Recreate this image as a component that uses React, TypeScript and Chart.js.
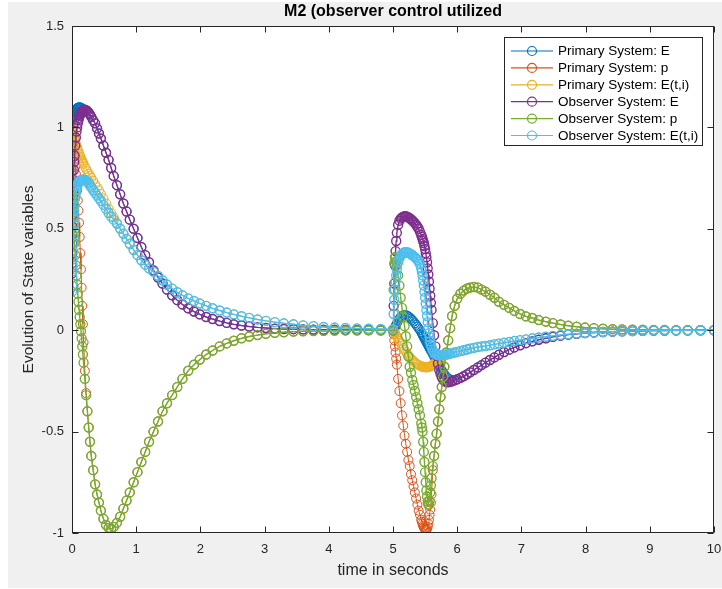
import React, { useEffect, useRef } from "react";
import { Chart, registerables } from "chart.js";

Chart.register(...registerables);

// ---------- time samples (s) ----------
const T_A = [0, 0.002, 0.004, 0.006, 0.008, 0.01, 0.013, 0.016, 0.02, 0.025, 0.03, 0.035, 0.04, 0.05, 0.06, 0.07, 0.08, 0.09, 0.1, 0.11, 0.12, 0.13, 0.14, 0.15, 0.16, 0.17, 0.18, 0.2, 0.22, 0.24, 0.26, 0.28, 0.3];
const T_B = [0.33, 0.36, 0.39, 0.42, 0.45, 0.49, 0.53, 0.57, 0.61, 0.65, 0.7, 0.75, 0.8, 0.85, 0.9, 0.96, 1.02, 1.08, 1.14, 1.2, 1.27, 1.34, 1.41, 1.48, 1.56, 1.64, 1.72, 1.81, 1.9, 1.99, 2.09, 2.19, 2.3, 2.41, 2.52, 2.64, 2.76, 2.89, 3.02, 3.16, 3.3, 3.45, 3.6, 3.76, 3.92, 4.09, 4.26, 4.44, 4.62, 4.81, 5.0];
const T_C = [5.01, 5.02, 5.03, 5.04, 5.05, 5.06, 5.08, 5.1, 5.12, 5.14, 5.16, 5.18, 5.2, 5.22, 5.24, 5.26, 5.28, 5.3, 5.32, 5.34, 5.36, 5.38, 5.4, 5.42, 5.44, 5.45, 5.46, 5.47, 5.48, 5.49, 5.5, 5.51, 5.52, 5.53, 5.54, 5.55, 5.56, 5.57, 5.58, 5.59, 5.6, 5.62, 5.64, 5.66, 5.68, 5.7, 5.72, 5.74, 5.76, 5.78, 5.8, 5.83, 5.86, 5.89, 5.92, 5.96, 6.0];
const T_D = [6.05, 6.1, 6.15, 6.2, 6.26, 6.32, 6.38, 6.44, 6.51, 6.58, 6.65, 6.73, 6.81, 6.89, 6.98, 7.07, 7.17, 7.27, 7.38, 7.49, 7.61, 7.73, 7.86, 7.99, 8.13, 8.27, 8.42, 8.57, 8.73, 8.89, 9.06, 9.23, 9.41, 9.59, 9.79, 10];

// ---------- Observer System: E ----------
const OBS_E_A = [0.28, 0.33, 0.38, 0.43, 0.47, 0.51, 0.57, 0.62, 0.68, 0.74, 0.79, 0.83, 0.86, 0.91, 0.95, 0.98, 1.0, 1.02, 1.035, 1.047, 1.057, 1.065, 1.071, 1.076, 1.08, 1.083, 1.085, 1.087, 1.085, 1.08, 1.072, 1.063, 1.052];
const OBS_E_B = [1.035, 1.02, 0.995, 0.97, 0.945, 0.91, 0.875, 0.84, 0.8, 0.76, 0.715, 0.67, 0.625, 0.585, 0.545, 0.5, 0.455, 0.41, 0.37, 0.335, 0.295, 0.26, 0.23, 0.2, 0.172, 0.148, 0.127, 0.108, 0.092, 0.078, 0.065, 0.055, 0.045, 0.036, 0.029, 0.023, 0.018, 0.014, 0.011, 0.008, 0.006, 0.005, 0.004, 0.003, 0.002, 0.002, 0.001, 0.001, 0.001, 0, 0];
const OBS_E_C = [0.12, 0.23, 0.32, 0.39, 0.44, 0.48, 0.52, 0.54, 0.55, 0.556, 0.56, 0.562, 0.562, 0.56, 0.556, 0.552, 0.547, 0.541, 0.535, 0.528, 0.52, 0.51, 0.5, 0.485, 0.47, 0.46, 0.45, 0.44, 0.43, 0.415, 0.4, 0.38, 0.36, 0.335, 0.305, 0.275, 0.24, 0.205, 0.17, 0.135, 0.1, 0.035, -0.025, -0.08, -0.125, -0.165, -0.195, -0.215, -0.232, -0.243, -0.25, -0.256, -0.257, -0.255, -0.252, -0.247, -0.242];
const OBS_E_D = [-0.235, -0.227, -0.218, -0.208, -0.196, -0.184, -0.172, -0.16, -0.147, -0.134, -0.121, -0.108, -0.096, -0.085, -0.074, -0.064, -0.055, -0.047, -0.04, -0.033, -0.027, -0.022, -0.018, -0.014, -0.011, -0.009, -0.007, -0.005, -0.004, -0.003, -0.002, -0.002, -0.001, -0.001, 0, 0];

// ---------- Primary System: E ----------
const PRI_E_A = [1.04, 1.042, 1.045, 1.047, 1.05, 1.052, 1.055, 1.058, 1.062, 1.067, 1.071, 1.075, 1.078, 1.084, 1.088, 1.092, 1.095, 1.097, 1.098, 1.099, 1.099, 1.098, 1.097, 1.095, 1.093, 1.091, 1.089, 1.087, 1.085, 1.08, 1.072, 1.063, 1.052];
const PRI_E_C = [0.003, 0.008, 0.014, 0.02, 0.027, 0.034, 0.047, 0.057, 0.065, 0.07, 0.073, 0.074, 0.074, 0.072, 0.068, 0.063, 0.057, 0.05, 0.043, 0.035, 0.027, 0.018, 0.009, 0, -0.01, -0.016, -0.022, -0.028, -0.034, -0.04, -0.046, -0.052, -0.058, -0.064, -0.07, -0.076, -0.082, -0.088, -0.094, -0.1, -0.106, -0.118, -0.13, -0.142, -0.153, -0.165, -0.176, -0.187, -0.198, -0.208, -0.217, -0.228, -0.237, -0.243, -0.247, -0.247, -0.242];

// ---------- Observer System: p ----------
const OBS_P_A = [0.67, 0.66, 0.65, 0.64, 0.63, 0.615, 0.6, 0.58, 0.555, 0.525, 0.49, 0.46, 0.43, 0.37, 0.32, 0.27, 0.225, 0.18, 0.14, 0.1, 0.065, 0.03, -0.005, -0.04, -0.08, -0.12, -0.16, -0.24, -0.32, -0.4, -0.48, -0.55, -0.62];
const OBS_P_B = [-0.69, -0.76, -0.81, -0.85, -0.89, -0.93, -0.96, -0.975, -0.98, -0.97, -0.95, -0.92, -0.88, -0.84, -0.8, -0.75, -0.7, -0.65, -0.6, -0.55, -0.5, -0.45, -0.4, -0.36, -0.32, -0.28, -0.24, -0.2, -0.17, -0.145, -0.12, -0.1, -0.08, -0.065, -0.052, -0.04, -0.031, -0.024, -0.018, -0.013, -0.01, -0.007, -0.005, -0.004, -0.003, -0.002, -0.001, -0.001, 0, 0, 0];
const OBS_P_C = [0.2, 0.33, 0.36, 0.36, 0.34, 0.32, 0.27, 0.22, 0.16, 0.11, 0.065, 0.02, -0.03, -0.08, -0.13, -0.18, -0.21, -0.245, -0.27, -0.3, -0.33, -0.36, -0.39, -0.42, -0.46, -0.48, -0.5, -0.55, -0.6, -0.65, -0.7, -0.75, -0.79, -0.82, -0.845, -0.86, -0.86, -0.84, -0.8, -0.765, -0.73, -0.67, -0.62, -0.56, -0.51, -0.45, -0.39, -0.33, -0.28, -0.23, -0.18, -0.11, -0.05, 0.01, 0.07, 0.12, 0.155];
const OBS_P_D = [0.18, 0.195, 0.205, 0.21, 0.213, 0.21, 0.2, 0.19, 0.175, 0.16, 0.14, 0.125, 0.11, 0.095, 0.08, 0.068, 0.06, 0.05, 0.042, 0.035, 0.028, 0.022, 0.017, 0.013, 0.01, 0.007, 0.005, 0.004, 0.003, 0.002, 0.001, 0.001, 0, 0, 0, 0];

// ---------- Primary System: p ----------
const PRI_P_A = [0.94, 0.937, 0.934, 0.93, 0.926, 0.922, 0.915, 0.908, 0.898, 0.885, 0.87, 0.855, 0.84, 0.805, 0.77, 0.73, 0.69, 0.64, 0.59, 0.53, 0.46, 0.38, 0.3, 0.21, 0.12, 0.03, -0.06, -0.2, -0.31, -0.4, -0.48, -0.55, -0.62];
const PRI_P_C = [-0.02, -0.05, -0.08, -0.11, -0.14, -0.17, -0.24, -0.3, -0.36, -0.42, -0.47, -0.52, -0.56, -0.6, -0.64, -0.67, -0.71, -0.74, -0.77, -0.8, -0.83, -0.86, -0.89, -0.91, -0.935, -0.945, -0.955, -0.965, -0.972, -0.978, -0.982, -0.985, -0.985, -0.98, -0.97, -0.955, -0.935, -0.91, -0.885, -0.85, -0.81, -0.69, -0.62, -0.56, -0.51, -0.45, -0.39, -0.33, -0.28, -0.23, -0.18, -0.11, -0.05, 0.01, 0.07, 0.12, 0.155];

// ---------- Observer System: E(t,i) ----------
const OBS_ETI_A = [0.19, 0.22, 0.26, 0.29, 0.32, 0.35, 0.39, 0.43, 0.47, 0.52, 0.56, 0.59, 0.615, 0.65, 0.675, 0.695, 0.71, 0.72, 0.728, 0.734, 0.736, 0.738, 0.74, 0.741, 0.742, 0.742, 0.742, 0.741, 0.738, 0.732, 0.724, 0.714, 0.704];
const OBS_ETI_B = [0.69, 0.677, 0.664, 0.651, 0.637, 0.618, 0.598, 0.578, 0.56, 0.545, 0.525, 0.5, 0.475, 0.45, 0.425, 0.395, 0.37, 0.345, 0.323, 0.305, 0.288, 0.268, 0.246, 0.225, 0.205, 0.187, 0.172, 0.157, 0.144, 0.132, 0.12, 0.108, 0.097, 0.087, 0.078, 0.069, 0.061, 0.053, 0.046, 0.04, 0.034, 0.029, 0.024, 0.02, 0.016, 0.013, 0.011, 0.009, 0.007, 0.006, 0.005];
const OBS_ETI_C = [0.08, 0.15, 0.2, 0.24, 0.27, 0.3, 0.335, 0.355, 0.368, 0.376, 0.381, 0.384, 0.385, 0.384, 0.382, 0.379, 0.375, 0.37, 0.365, 0.36, 0.354, 0.347, 0.338, 0.325, 0.305, 0.29, 0.27, 0.245, 0.22, 0.19, 0.16, 0.13, 0.1, 0.07, 0.04, 0.01, -0.015, -0.035, -0.055, -0.07, -0.083, -0.1, -0.11, -0.117, -0.121, -0.123, -0.124, -0.124, -0.123, -0.122, -0.121, -0.119, -0.117, -0.115, -0.113, -0.11, -0.107];
const OBS_ETI_D = [-0.103, -0.099, -0.095, -0.091, -0.087, -0.083, -0.08, -0.078, -0.074, -0.07, -0.066, -0.062, -0.058, -0.053, -0.049, -0.045, -0.04, -0.036, -0.032, -0.028, -0.024, -0.02, -0.017, -0.014, -0.011, -0.009, -0.007, -0.005, -0.004, -0.003, -0.002, -0.002, -0.001, -0.001, 0, 0];

// ---------- Primary System: E(t,i) ----------
const PRI_ETI_A = [1.0, 0.998, 0.995, 0.992, 0.99, 0.987, 0.983, 0.979, 0.974, 0.967, 0.96, 0.953, 0.946, 0.932, 0.92, 0.91, 0.9, 0.89, 0.88, 0.87, 0.863, 0.855, 0.848, 0.84, 0.833, 0.826, 0.82, 0.807, 0.795, 0.783, 0.772, 0.762, 0.752];
const PRI_ETI_B = [0.737, 0.72, 0.705, 0.69, 0.672, 0.65, 0.625, 0.6, 0.578, 0.557, 0.53, 0.503, 0.478, 0.452, 0.428, 0.398, 0.37, 0.345, 0.323, 0.305, 0.288, 0.268, 0.246, 0.225, 0.205, 0.187, 0.172, 0.157, 0.144, 0.132, 0.12, 0.108, 0.097, 0.087, 0.078, 0.069, 0.061, 0.053, 0.046, 0.04, 0.034, 0.029, 0.024, 0.02, 0.016, 0.013, 0.011, 0.009, 0.007, 0.006, 0.005];
const PRI_ETI_C = [-0.002, -0.008, -0.014, -0.02, -0.026, -0.032, -0.043, -0.054, -0.065, -0.076, -0.087, -0.097, -0.107, -0.116, -0.125, -0.133, -0.14, -0.147, -0.153, -0.159, -0.164, -0.168, -0.172, -0.175, -0.178, -0.179, -0.18, -0.181, -0.182, -0.182, -0.183, -0.183, -0.183, -0.183, -0.182, -0.182, -0.181, -0.18, -0.179, -0.177, -0.175, -0.171, -0.166, -0.16, -0.154, -0.148, -0.142, -0.137, -0.133, -0.129, -0.126, -0.122, -0.119, -0.116, -0.113, -0.11, -0.107];

// ---------- labels ----------
const TITLE = "M2 (observer control utilized";
const X_TITLE = "time in seconds";
const Y_TITLE = "Evolution of State variables";
const SERIES_LABELS = [
  "Primary System: E",
  "Primary System: p",
  "Primary System: E(t,i)",
  "Observer System: E",
  "Observer System: p",
  "Observer System: E(t,i)",
];
const X_MIN = 0, X_MAX = 10, X_STEP = 1;
const Y_MIN = -1, Y_MAX = 1.5, Y_STEP = 0.5;

// ---------- assembled series (primary == observer where they coincide) ----------
const TIME = [...T_A, ...T_B, ...T_C, ...T_D];
const SERIES_VALUES = [
  [...PRI_E_A, ...OBS_E_B, ...PRI_E_C, ...OBS_E_D],
  [...PRI_P_A, ...OBS_P_B, ...PRI_P_C, ...OBS_P_D],
  [...PRI_ETI_A, ...PRI_ETI_B, ...PRI_ETI_C, ...OBS_ETI_D],
  [...OBS_E_A, ...OBS_E_B, ...OBS_E_C, ...OBS_E_D],
  [...OBS_P_A, ...OBS_P_B, ...OBS_P_C, ...OBS_P_D],
  [...OBS_ETI_A, ...OBS_ETI_B, ...OBS_ETI_C, ...OBS_ETI_D],
];

const COLORS = ["#0072BD", "#D95319", "#EDB120", "#7E2F8E", "#77AC30", "#4DBEEE"];
const WIDTHS = [1.0, 1.0, 1.0, 1.4, 1.4, 1.4];
const FONT = '"Liberation Sans", Arial, Helvetica, sans-serif';
const INK = "#262626";

const matlabPlugin = {
  id: "matlabLook",
  beforeDraw(chart: any) {
    const { ctx, chartArea: a } = chart;
    ctx.save();
    ctx.fillStyle = "#ffffff";
    ctx.fillRect(a.left, a.top, a.right - a.left, a.bottom - a.top);
    ctx.restore();
  },
  afterDraw(chart: any) {
    const { ctx, chartArea: a, scales } = chart;
    ctx.save();
    const L = Math.round(a.left) + 0.5;
    const R = Math.round(a.right) - 0.5;
    const Tp = Math.round(a.top) + 0.5;
    const B = Math.round(a.bottom) - 0.5;
    ctx.strokeStyle = INK;
    ctx.lineWidth = 1;
    ctx.strokeRect(L, Tp, R - L, B - Tp);
    const TL = 6;
    ctx.beginPath();
    for (const t of scales.x.ticks) {
      const px = Math.round(scales.x.getPixelForValue(t.value)) + 0.5;
      ctx.moveTo(px, B); ctx.lineTo(px, B - TL);
      ctx.moveTo(px, Tp); ctx.lineTo(px, Tp + TL);
    }
    for (const t of scales.y.ticks) {
      const py = Math.round(scales.y.getPixelForValue(t.value)) + 0.5;
      ctx.moveTo(L, py); ctx.lineTo(L + TL, py);
      ctx.moveTo(R, py); ctx.lineTo(R - TL, py);
    }
    ctx.stroke();

    // title
    ctx.fillStyle = "#000";
    ctx.font = `bold 16px ${FONT}`;
    ctx.textAlign = "center";
    ctx.textBaseline = "middle";
    ctx.fillText(TITLE, (a.left + a.right) / 2, 10);

    // legend (inside, north-east)
    const lw = 198, lh = 108;
    const lx = Math.round(a.right) - 12 - lw;
    const ly = Math.round(a.top) + 11;
    ctx.fillStyle = "#fff";
    ctx.fillRect(lx, ly, lw, lh);
    ctx.strokeStyle = INK;
    ctx.lineWidth = 1;
    ctx.strokeRect(lx + 0.5, ly + 0.5, lw, lh);
    ctx.font = `13.5px ${FONT}`;
    ctx.textAlign = "left";
    ctx.textBaseline = "middle";
    chart.data.datasets.forEach((ds: any, i: number) => {
      const y = ly + 14 + i * 16.9;
      ctx.strokeStyle = ds.borderColor;
      ctx.lineWidth = 1.2;
      ctx.beginPath();
      ctx.moveTo(lx + 7, y); ctx.lineTo(lx + 49, y);
      ctx.stroke();
      ctx.beginPath();
      ctx.arc(lx + 28, y, 4.5, 0, Math.PI * 2);
      ctx.stroke();
      ctx.fillStyle = "#000";
      ctx.fillText(ds.label, lx + 54, y + 0.5);
    });
    ctx.restore();
  },
};

export default function App() {
  const ref = useRef<HTMLCanvasElement | null>(null);
  useEffect(() => {
    if (!ref.current) return;
    const datasets = SERIES_LABELS.map((label, i) => ({
      label,
      data: TIME.map((t, k) => ({ x: t, y: SERIES_VALUES[i][k] })),
      borderColor: COLORS[i],
      backgroundColor: "rgba(0,0,0,0)",
      borderWidth: WIDTHS[i],
      pointStyle: "circle",
      pointRadius: 4.5,
      pointBorderWidth: WIDTHS[i],
      pointBorderColor: COLORS[i],
      pointBackgroundColor: "rgba(0,0,0,0)",
      tension: 0,
      fill: false,
      order: SERIES_LABELS.length - i,
    }));
    const chart = new Chart(ref.current, {
      type: "line",
      data: { datasets },
      options: {
        animation: false,
        responsive: false,
        devicePixelRatio: 1,
        events: [],
        layout: { padding: { top: 24, right: 8, left: 0, bottom: 0 } },
        plugins: { legend: { display: false }, title: { display: false }, tooltip: { enabled: false } },
        scales: {
          x: {
            type: "linear",
            min: X_MIN,
            max: X_MAX,
            ticks: { stepSize: X_STEP, color: INK, font: { family: FONT, size: 13 }, padding: 9, maxRotation: 0, autoSkip: false, callback: (v: any) => String(v) },
            grid: { display: false, drawTicks: false },
            border: { display: false },
            title: { display: true, text: X_TITLE, color: INK, font: { family: FONT, size: 16 }, padding: { top: 0, bottom: 8 } },
            afterFit: (s: any) => { s.height = 55; s.paddingLeft = 0; s.paddingRight = 0; },
          },
          y: {
            type: "linear",
            min: Y_MIN,
            max: Y_MAX,
            ticks: { stepSize: Y_STEP, color: INK, font: { family: FONT, size: 13 }, padding: 8, callback: (v: any) => String(v) },
            grid: { display: false, drawTicks: false },
            border: { display: false },
            title: { display: true, text: Y_TITLE, color: INK, font: { family: FONT, size: 15.5 }, padding: { top: 11, bottom: 0 } },
            afterFit: (s: any) => { s.width = 64; s.paddingTop = 0; s.paddingBottom = 0; },
          },
        },
      } as any,
      plugins: [matlabPlugin as any],
    });
    return () => chart.destroy();
  }, []);
  return (
    <div style={{ position: "absolute", left: 8, top: 2, width: 714, height: 586, background: "#f0f0f0" }}>
      <canvas ref={ref} width={714} height={586} style={{ display: "block", width: 714, height: 586 }} />
    </div>
  );
}
